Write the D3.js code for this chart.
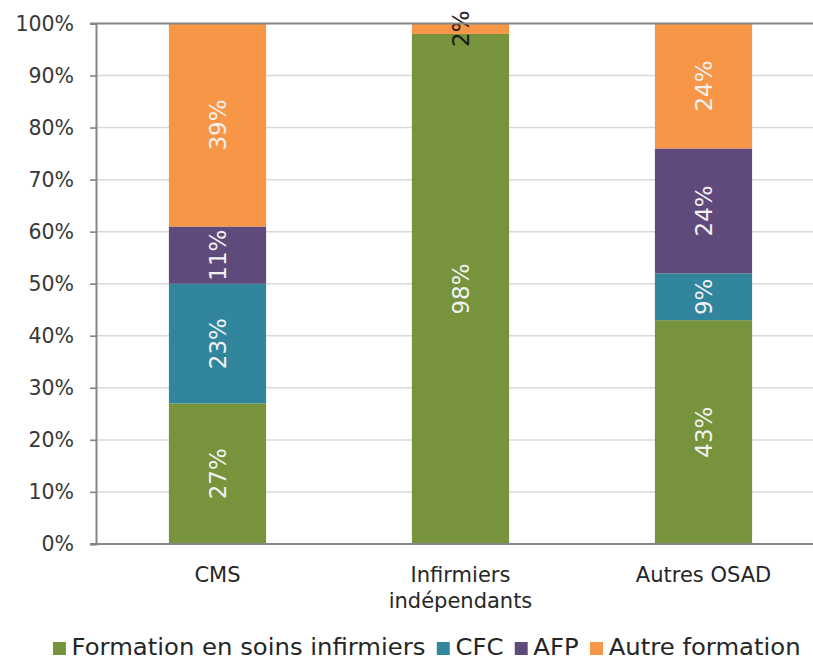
<!DOCTYPE html>
<html>
<head>
<meta charset="utf-8">
<script src="https://cdn.jsdelivr.net/npm/d3@7"></script>
<style>
  html, body { margin: 0; padding: 0; background: #ffffff; }
  svg { display: block; }
  text { font-family: "DejaVu Sans", Verdana, sans-serif; }
</style>
</head>
<body>
<svg id="chart" width="813" height="661"></svg>
<script>
// Categories (two-line labels split with "\n")
const categories = ["CMS", "Infirmiers\nindépendants", "Autres OSAD"];

// Series (percent of each category)
const seriesNames = ["Formation en soins infirmiers", "CFC", "AFP", "Autre formation"];
const formationSoins = [27, 98, 43];
const cfc = [23, 0, 9];
const afp = [11, 0, 24];
const autreFormation = [39, 2, 24];
const seriesColors = ["#77933c", "#31859c", "#604a7b", "#f79646"];

// Y-axis ticks
const yTicks = [0, 10, 20, 30, 40, 50, 60, 70, 80, 90, 100];

const seriesValues = [formationSoins, cfc, afp, autreFormation];
const rows = categories.map((c, i) => {
  const r = { cat: c };
  seriesNames.forEach((s, k) => { r[s] = seriesValues[k][i]; });
  return r;
});

const svg = d3.select("#chart");

const plot = { left: 96, right: 825, top: 23.5, bottom: 544 };

const x = d3.scaleBand()
  .domain(categories)
  .range([plot.left, plot.right])
  .paddingInner(0.6)
  .paddingOuter(0.3);

const y = d3.scaleLinear()
  .domain([0, 100])
  .range([plot.bottom, plot.top]);

// Gridlines
svg.append("g")
  .selectAll("line")
  .data(yTicks.filter(t => t > 0 && t < 100))
  .join("line")
  .attr("x1", plot.left - 6)
  .attr("x2", 813)
  .attr("y1", d => y(d))
  .attr("y2", d => y(d))
  .attr("stroke", "#d9d9d9")
  .attr("stroke-width", 1.5);

// Stacked bars
const stack = d3.stack().keys(seriesNames);
const layers = stack(rows);

const barG = svg.append("g");
layers.forEach((layer, k) => {
  barG.append("g")
    .attr("fill", seriesColors[k])
    .selectAll("rect")
    .data(layer.filter(d => d[1] - d[0] > 0))
    .join("rect")
    .attr("x", d => x(d.data.cat))
    .attr("width", x.bandwidth())
    .attr("y", d => y(d[1]))
    .attr("height", d => y(d[0]) - y(d[1]));
});

// Top border and bottom axis
svg.append("line")
  .attr("x1", plot.left - 6).attr("x2", 813)
  .attr("y1", y(100)).attr("y2", y(100))
  .attr("stroke", "#868686").attr("stroke-width", 2);
svg.append("line")
  .attr("x1", plot.left - 6).attr("x2", 813)
  .attr("y1", y(0)).attr("y2", y(0))
  .attr("stroke", "#868686").attr("stroke-width", 2);

// Left axis
const yAxis = d3.axisLeft(y)
  .tickValues(yTicks)
  .tickFormat(d => d + "%")
  .tickSize(6)
  .tickPadding(16);

const yAxisG = svg.append("g")
  .attr("transform", `translate(${plot.left},0)`)
  .call(yAxis);
yAxisG.select(".domain").attr("stroke", "#868686").attr("stroke-width", 2);
yAxisG.selectAll(".tick line").attr("stroke", "#868686").attr("stroke-width", 1.5);
yAxisG.selectAll(".tick text")
  .attr("fill", "#383838")
  .style("font-size", "20.5px")
  .style("font-family", "'DejaVu Sans', Verdana, sans-serif");

// Segment value labels (rotated)
layers.forEach((layer, k) => {
  barG.append("g")
    .selectAll("text")
    .data(layer.filter(d => d[1] - d[0] > 0))
    .join("text")
    .attr("transform", d => {
      const cx = x(d.data.cat) + x.bandwidth() / 2;
      const cy = (y(d[0]) + y(d[1])) / 2;
      return `translate(${cx},${cy}) rotate(-90)`;
    })
    .attr("text-anchor", "middle")
    .attr("dy", "0.36em")
    .attr("fill", d => (d[1] - d[0] < 5 ? "#1a1a1a" : "#f2f2f2"))
    .style("font-size", "23px")
    .text(d => (d[1] - d[0]) + "%");
});

// Category labels
const catG = svg.append("g");
categories.forEach(c => {
  const lines = c.split("\n");
  const t = catG.append("text")
    .attr("x", x(c) + x.bandwidth() / 2)
    .attr("y", 582)
    .attr("text-anchor", "middle")
    .attr("fill", "#262626")
    .style("font-size", "21px");
  lines.forEach((ln, i) => {
    t.append("tspan")
      .attr("x", x(c) + x.bandwidth() / 2)
      .attr("dy", i === 0 ? 0 : 26)
      .text(ln);
  });
});

// Legend (slightly widened glyphs)
const legendX = 53;
const legendG = svg.append("g")
  .attr("transform", `translate(${legendX},0) scale(1.035,1)`);
let lx = 0;
seriesNames.forEach((s, k) => {
  legendG.append("rect")
    .attr("x", lx).attr("y", 642)
    .attr("width", 12.5).attr("height", 13)
    .attr("fill", seriesColors[k]);
  const t = legendG.append("text")
    .attr("x", lx + 18).attr("y", 655)
    .attr("fill", "#262626")
    .style("font-size", "23.5px")
    .text(s);
  lx += 18 + t.node().getComputedTextLength() + 11;
});
</script>
</body>
</html>
